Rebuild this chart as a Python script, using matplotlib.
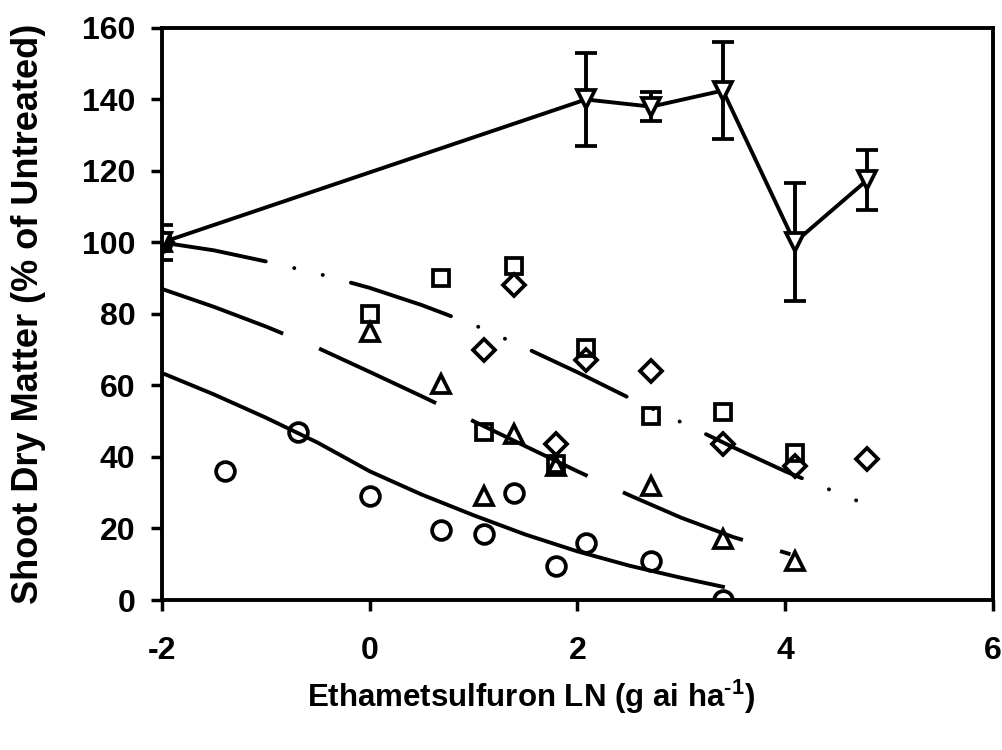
import numpy as np
import matplotlib
matplotlib.use("Agg")
import matplotlib.pyplot as plt

plt.rcParams['font.family'] = ['Liberation Sans', 'DejaVu Sans']
plt.rcParams['font.weight'] = 'bold'
plt.rcParams['mathtext.fontset'] = 'custom'
plt.rcParams['mathtext.rm'] = 'Liberation Sans:bold'
plt.rcParams['mathtext.bf'] = 'Liberation Sans:bold'
plt.rcParams['mathtext.default'] = 'bf'
plt.rcParams['lines.scale_dashes'] = False
plt.rcParams['axes.unicode_minus'] = False

# observed points (x = ln dose, y = % of untreated)
circle_x = [-2, -1.39, -0.69, 0, 0.69, 1.1, 1.39, 1.79, 2.08, 2.71, 3.4]
circle_y = [100, 36, 47, 29, 19.5, 18.5, 30, 9.5, 16, 11, 0]

tri_x = [-2, 0, 0.69, 1.1, 1.39, 1.79, 2.71, 3.4, 4.09]
tri_y = [100, 75, 60.5, 29, 46.5, 37.5, 32, 17, 11]

square_x = [-2, 0, 0.69, 1.1, 1.39, 1.79, 2.08, 2.71, 3.4, 4.09]
square_y = [100, 80, 90, 47, 93.5, 38, 70.5, 51.5, 52.5, 41]

diamond_x = [-2, 1.1, 1.39, 1.79, 2.08, 2.71, 3.4, 4.09, 4.79]
diamond_y = [100, 70, 88, 43.5, 67, 64, 43.5, 37.5, 39.5]

inv_x = [-2, 2.08, 2.71, 3.4, 4.09, 4.79]
inv_y = [100, 140, 138, 142.5, 100, 117.5]
inv_err = [5, 13, 4, 13.5, 16.5, 8.5]

# fitted curves
fit_top_x = [-2, -1.5, -1, -0.5, 0, 0.5, 1, 1.5, 2, 2.5, 3, 3.5, 4, 4.5, 4.8]
fit_top_y = [100, 97.8, 94.7, 91.3, 87.3, 82.5, 77, 70.5, 63.7, 56.5, 49.7, 42.7, 36, 30, 26.5]

fit_mid_x = [-2, -1.5, -1, -0.5, 0, 0.5, 1, 1.5, 2, 2.5, 3, 3.5, 4.05]
fit_mid_y = [87, 82, 76.5, 70.5, 63.8, 57, 50, 43, 36, 29.3, 23, 17.6, 12.8]

fit_low_x = [-2, -1.5, -1, -0.5, 0, 0.5, 1, 1.5, 2, 2.5, 3, 3.4]
fit_low_y = [63.5, 57.5, 51, 44, 36, 29.5, 23.7, 18.3, 13.6, 9.6, 6.2, 3.7]

fig = plt.figure(figsize=(10.03, 7.5), dpi=100)
ax = fig.add_axes([0.1615, 0.2, 0.8285, 0.7627])

lw = 2.8
ax.plot(fit_top_x, fit_top_y, color='black', lw=lw,
        linestyle=(0, (76, 21, 0.1, 21, 0.1, 21)), dash_capstyle='round')
ax.plot(fit_mid_x, fit_mid_y, color='black', lw=lw, linestyle=(0, (93, 28)))
ax.plot(fit_low_x, fit_low_y, color='black', lw=lw)

mk = dict(color='black', mfc='none', mec='black', mew=2.7, ls='none')
ax.plot(circle_x, circle_y, marker='o', ms=13.5, **mk)
ax.plot(tri_x, tri_y, marker='^', ms=13.5, **mk)
ax.plot(square_x, square_y, marker='s', ms=12, **mk)
ax.plot(diamond_x, diamond_y, marker='D', ms=11.5, **mk)

ax.errorbar(inv_x, inv_y, yerr=inv_err, color='black', lw=lw, elinewidth=lw,
            capsize=8, capthick=lw, marker='v', ms=13.5, mfc='white',
            mec='black', mew=2.7)

ax.set_xlim(-2, 6)
ax.set_ylim(0, 160)
ax.set_xticks([-2, 0, 2, 4, 6])
ax.set_yticks(np.arange(0, 161, 20))
ax.tick_params(direction='out', length=8, width=2.5, labelsize=23)
ax.tick_params(axis='y', pad=11)
ax.tick_params(axis='x', pad=18)
for s in ax.spines.values():
    s.set_linewidth(2.8)

ax.set_ylabel('Shoot Dry Matter (% of Untreated)', fontsize=26, fontweight='bold')
ax.yaxis.set_label_coords(-0.14, 0.5)
ax.set_xlabel(r'Ethametsulfuron LN (g ai ha$^{\text{-1}}$)', fontsize=22.5, fontweight='bold')
ax.xaxis.set_label_coords(0.444, -0.135)

fig.savefig('out.png', dpi=100)
